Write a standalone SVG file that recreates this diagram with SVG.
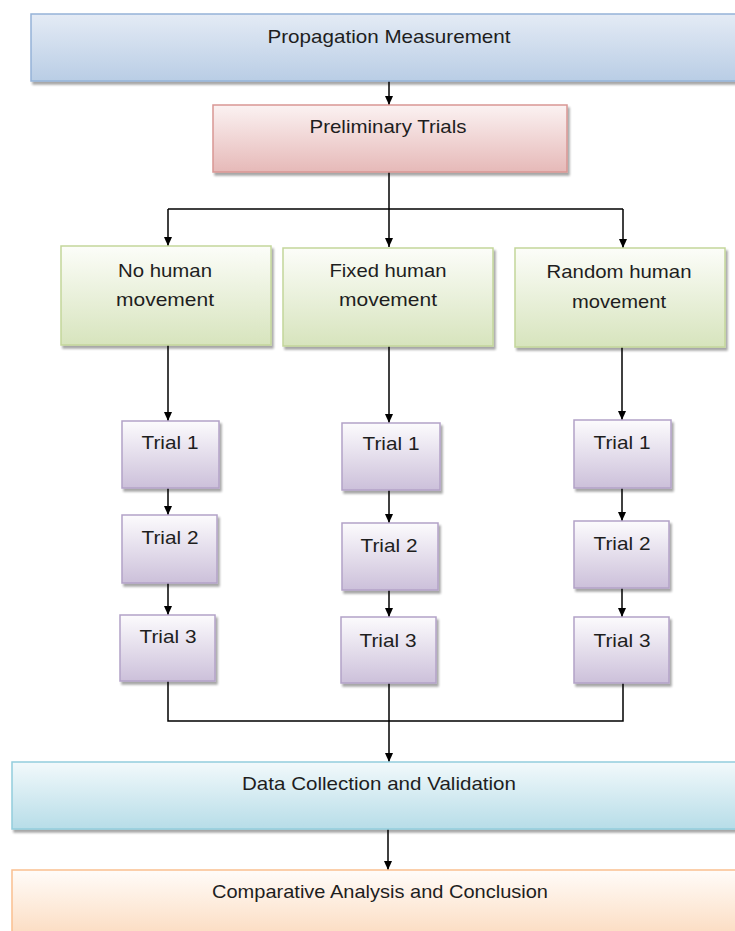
<svg xmlns="http://www.w3.org/2000/svg" width="735" height="931" viewBox="0 0 735 931">
<defs>
<linearGradient id="gBlue" x1="0" y1="0" x2="0" y2="1"><stop offset="0" stop-color="#e4ebf5"/><stop offset="1" stop-color="#b9cde5"/></linearGradient>
<linearGradient id="gRed" x1="0" y1="0" x2="0" y2="1"><stop offset="0" stop-color="#fbf2f2"/><stop offset="1" stop-color="#e6b9b8"/></linearGradient>
<linearGradient id="gGreen" x1="0" y1="0" x2="0" y2="1"><stop offset="0" stop-color="#fcfdf9"/><stop offset="1" stop-color="#d7e4bd"/></linearGradient>
<linearGradient id="gPurple" x1="0" y1="0" x2="0" y2="1"><stop offset="0" stop-color="#fcfbfd"/><stop offset="1" stop-color="#ccc0da"/></linearGradient>
<linearGradient id="gAqua" x1="0" y1="0" x2="0" y2="1"><stop offset="0" stop-color="#f2f9fb"/><stop offset="1" stop-color="#b7dde8"/></linearGradient>
<linearGradient id="gOrange" x1="0" y1="0" x2="0" y2="1"><stop offset="0" stop-color="#fffcf9"/><stop offset="1" stop-color="#fbd5b5"/></linearGradient>
<filter id="sh" x="-10%" y="-10%" width="130%" height="130%"><feDropShadow dx="2" dy="3" stdDeviation="1" flood-color="#000" flood-opacity="0.35"/></filter>
<marker id="arr" markerUnits="userSpaceOnUse" markerWidth="10" markerHeight="10" refX="9" refY="5" orient="auto"><path d="M0,1 L9,5 L0,9 z" fill="#000"/></marker>
</defs>
<style>
.lbl{font-family:"Liberation Sans",Arial,sans-serif;font-size:19px;fill:#1e1e1e;text-anchor:middle}
.tr{font-size:19px}
.blue{fill:url(#gBlue);stroke:#95b3d7;stroke-width:1.5}
.red{fill:url(#gRed);stroke:#d99694;stroke-width:1.5}
.green{fill:url(#gGreen);stroke:#c3d69b;stroke-width:1.5}
.purple{fill:url(#gPurple);stroke:#b3a2c7;stroke-width:1.5}
.aqua{fill:url(#gAqua);stroke:#93cddd;stroke-width:1.5}
.orange{fill:url(#gOrange);stroke:#fac090;stroke-width:1.5}
.c{fill:none;stroke:#000;stroke-width:1.5}
.a{marker-end:url(#arr)}
</style>
<rect width="735" height="931" fill="#fff"/>
<g id="connectors">
<path class="c a" d="M389,81 V105"/>
<path class="c a" d="M389,172 V247"/>
<path class="c" d="M168,209 H623"/>
<path class="c a" d="M168,209 V246"/>
<path class="c a" d="M623,209 V248"/>
<path class="c a" d="M168,345 V421"/>
<path class="c a" d="M389,346 V423"/>
<path class="c a" d="M622,347 V420"/>
<path class="c a" d="M168,488 V515"/>
<path class="c a" d="M389,490 V523"/>
<path class="c a" d="M622,488 V521"/>
<path class="c a" d="M168,583 V615"/>
<path class="c a" d="M389,590 V617"/>
<path class="c a" d="M622,588 V617"/>
<path class="c" d="M168,681 V721 H623 V683"/>
<path class="c a" d="M389,683 V762"/>
<path class="c a" d="M388,829 V870"/>
</g>
<g id="propagation"><rect class="blue" x="31" y="14" width="740" height="67" filter="url(#sh)"/><text class="lbl" x="389" y="43" textLength="243" lengthAdjust="spacingAndGlyphs">Propagation Measurement</text></g>
<g id="preliminary"><rect class="red" x="213" y="105" width="354" height="67" filter="url(#sh)"/><text class="lbl" x="388" y="133" textLength="157" lengthAdjust="spacingAndGlyphs">Preliminary Trials</text></g>
<g id="no-human"><rect class="green" x="61" y="246" width="210" height="99" filter="url(#sh)"/><text class="lbl" x="165" y="277" textLength="94" lengthAdjust="spacingAndGlyphs">No human</text><text class="lbl" x="165" y="306" textLength="98" lengthAdjust="spacingAndGlyphs">movement</text></g>
<g id="fixed-human"><rect class="green" x="283" y="248" width="210" height="98" filter="url(#sh)"/><text class="lbl" x="388" y="277" textLength="117" lengthAdjust="spacingAndGlyphs">Fixed human</text><text class="lbl" x="388" y="306" textLength="98" lengthAdjust="spacingAndGlyphs">movement</text></g>
<g id="random-human"><rect class="green" x="515" y="248" width="210" height="99" filter="url(#sh)"/><text class="lbl" x="619" y="278" textLength="145" lengthAdjust="spacingAndGlyphs">Random human</text><text class="lbl" x="619" y="308" textLength="94" lengthAdjust="spacingAndGlyphs">movement</text></g>
<g id="no-trial1"><rect class="purple" x="122" y="421" width="97" height="67" filter="url(#sh)"/><text class="lbl tr" x="170" y="449" textLength="57" lengthAdjust="spacingAndGlyphs">Trial 1</text></g>
<g id="no-trial2"><rect class="purple" x="122" y="515" width="95" height="68" filter="url(#sh)"/><text class="lbl tr" x="170" y="544" textLength="57" lengthAdjust="spacingAndGlyphs">Trial 2</text></g>
<g id="no-trial3"><rect class="purple" x="120" y="615" width="95" height="66" filter="url(#sh)"/><text class="lbl tr" x="168" y="643" textLength="57" lengthAdjust="spacingAndGlyphs">Trial 3</text></g>
<g id="fixed-trial1"><rect class="purple" x="342" y="423" width="98" height="67" filter="url(#sh)"/><text class="lbl tr" x="391" y="450" textLength="57" lengthAdjust="spacingAndGlyphs">Trial 1</text></g>
<g id="fixed-trial2"><rect class="purple" x="342" y="523" width="96" height="67" filter="url(#sh)"/><text class="lbl tr" x="389" y="552" textLength="57" lengthAdjust="spacingAndGlyphs">Trial 2</text></g>
<g id="fixed-trial3"><rect class="purple" x="341" y="617" width="95" height="66" filter="url(#sh)"/><text class="lbl tr" x="388" y="647" textLength="57" lengthAdjust="spacingAndGlyphs">Trial 3</text></g>
<g id="random-trial1"><rect class="purple" x="574" y="420" width="97" height="68" filter="url(#sh)"/><text class="lbl tr" x="622" y="449" textLength="57" lengthAdjust="spacingAndGlyphs">Trial 1</text></g>
<g id="random-trial2"><rect class="purple" x="574" y="521" width="95" height="67" filter="url(#sh)"/><text class="lbl tr" x="622" y="550" textLength="57" lengthAdjust="spacingAndGlyphs">Trial 2</text></g>
<g id="random-trial3"><rect class="purple" x="574" y="617" width="95" height="66" filter="url(#sh)"/><text class="lbl tr" x="622" y="647" textLength="57" lengthAdjust="spacingAndGlyphs">Trial 3</text></g>
<g id="data-collection"><rect class="aqua" x="12" y="762" width="760" height="67" filter="url(#sh)"/><text class="lbl" x="379" y="790" textLength="274" lengthAdjust="spacingAndGlyphs">Data Collection and Validation</text></g>
<g id="comparative"><rect class="orange" x="12" y="870" width="760" height="80" filter="url(#sh)"/><text class="lbl" x="380" y="898" textLength="336" lengthAdjust="spacingAndGlyphs">Comparative Analysis and Conclusion</text></g>
</svg>
